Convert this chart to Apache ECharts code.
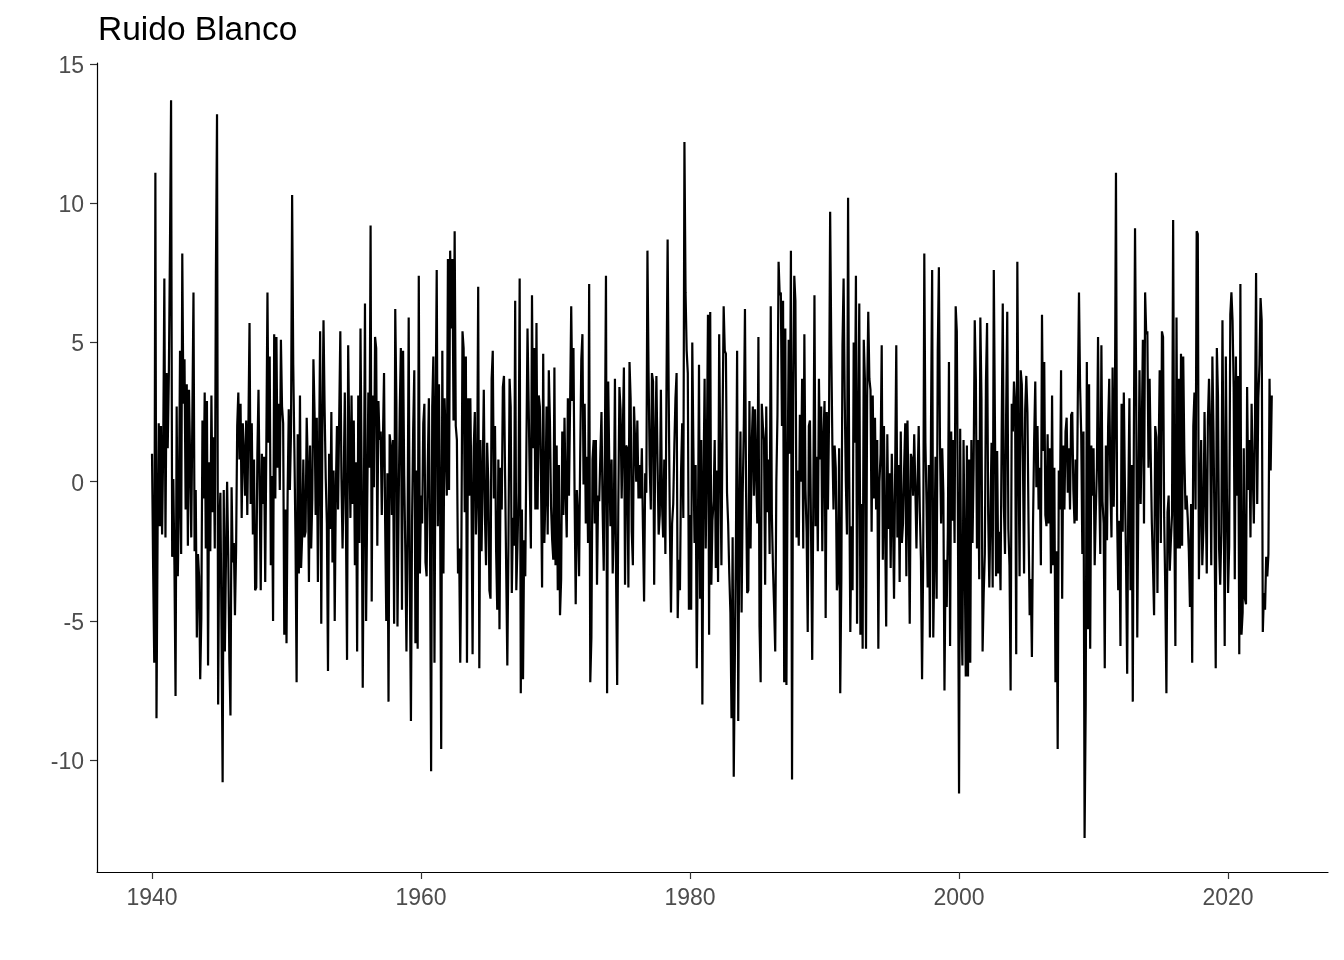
<!DOCTYPE html>
<html><head><meta charset="utf-8">
<script src="https://cdn.jsdelivr.net/npm/echarts@6/dist/echarts.min.js"></script>
<style>html,body{margin:0;padding:0;background:#fff}#c{width:1344px;height:960px}</style>
</head><body><div id="c"></div>
<script>
const chartTitle = 'Ruido Blanco';
const startYear = 1940;          // monthly series, January 1940 onwards
const xTicks = [1940, 1960, 1980, 2000, 2020];
const yTicks = [-10, -5, 0, 5, 10, 15];
const values = [
  1.0, -3.1, -6.5, 11.1, -8.5, -1.7, 2.1, -1.6, 2.0, -1.9, 1.3, 7.3,
  -2.0, 3.9, 1.2, 3.8, 8.3, 13.7, -2.7, 0.1, -3.0, -7.7, 2.7, -3.4,
  -0.9, 4.7, -2.6, 8.2, 2.8, 4.4, -1.0, 3.5, -2.3, 3.3, 0.8, -2.0,
  2.4, 6.8, -2.5, -0.3, -5.6, -2.6, -3.4, -7.1, -4.9, 2.2, -0.6, 3.2,
  -2.4, 2.9, -6.6, 0.7, -2.5, 3.1, -1.1, 1.6, -2.4, 7.5, 13.2, -8.0,
  -1.6, -0.4, -5.3, -10.8, -0.3, -6.1, -2.7, 0.0, -2.6, -6.4, -8.4, -0.2,
  -2.9, -2.2, -4.8, -2.5, 2.0, 3.2, 0.8, 2.8, -1.3, 2.1, 1.0, -0.5,
  2.2, -1.2, 2.0, 5.7, -0.8, 2.1, -1.9, 0.8, -3.9, -3.8, 1.0, 3.3,
  3.3, -3.9, 1.0, -0.8, 0.9, -3.6, 1.4, 6.8, 1.4, 4.5, -3.0, 0.2,
  -5.0, 5.3, -0.6, 5.2, 0.5, 2.8, -0.3, 5.1, 2.7, 2.1, -5.5, -1.0,
  -5.8, -0.4, 2.6, -0.3, 1.8, 10.3, 4.2, 1.2, -2.0, -7.2, 1.7, -3.3,
  3.1, -3.1, -1.9, 0.8, -2.0, -1.8, 2.3, 0.6, -3.6, 1.3, -2.4, -0.6,
  4.4, 2.5, -1.2, 2.3, -3.6, 0.9, 5.4, -5.1, 1.9, 5.8, 2.6, 0.1,
  -1.5, -6.8, 1.0, -1.7, 2.5, -2.9, 0.4, -5.0, -0.3, 2.0, -1.0, 2.3,
  5.4, 0.1, -2.4, 0.0, 3.2, -1.5, -6.4, 4.9, 1.5, -1.3, 3.1, -0.8,
  2.2, -3.0, 0.7, -6.1, 3.1, -2.2, 5.5, 0.4, -7.4, -0.9, 6.4, -5.0,
  -0.8, 3.2, 0.5, 9.2, -4.3, 3.1, -0.2, 5.2, 4.8, -2.3, 2.9, 1.5,
  1.8, -1.2, 1.5, 3.9, -1.5, -5.0, 0.3, -7.9, 1.7, 1.3, -1.2, 1.5,
  -5.1, 6.2, 2.9, -5.2, -1.0, 2.5, 4.8, -4.6, 4.7, 0.2, -2.5, -6.1,
  -1.8, 5.9, -3.6, -8.6, -1.4, 1.9, 4.0, -5.8, 0.4, -6.0, 7.4, -3.3,
  -0.5, -1.5, 2.1, 2.8, -2.9, -3.4, 0.5, 3.0, -2.0, -10.4, 2.7, 4.5,
  -6.5, 2.5, 7.6, -1.6, 3.5, -0.6, -9.6, 4.7, -3.3, 3.0, 1.5, -0.5,
  8.0, -0.3, 8.3, 5.5, 8.0, 2.2, 9.0, 2.0, 1.5, -3.3, -2.4, -6.5,
  -2.5, 5.4, 4.8, -1.1, 4.5, -6.5, 3.0, -0.5, 3.0, -0.5, -6.2, 1.2,
  2.5, -1.9, -0.3, 7.0, -6.7, 1.5, -2.5, 0.2, 3.3, -1.2, -3.0, 1.4,
  0.0, -3.9, -4.2, 3.7, 4.7, -0.6, 2.0, -2.5, -4.6, 0.8, -5.3, 0.5,
  -1.0, 3.4, 3.8, 0.2, -3.2, -6.6, -2.2, 3.7, 2.7, -4.0, -1.3, -2.3,
  6.5, -3.9, -2.4, -0.4, 7.3, -7.6, -1.0, -7.1, -2.1, -3.4, 1.2, 5.5,
  2.9, 0.0, -2.4, 6.7, 1.2, 4.8, -1.0, 5.7, -1.0, 3.1, 2.7, 0.2,
  -3.8, 4.6, -2.2, -0.5, 2.7, -1.9, 4.0, 2.2, -0.9, -2.1, -2.8, 4.1,
  -3.0, 1.3, -3.9, 0.6, -4.8, -3.5, 1.8, -1.2, 2.3, -0.4, -2.0, 3.0,
  -0.5, 2.8, 6.3, 2.9, 4.8, -0.5, -4.4, -0.3, -1.2, -3.4, 1.0, 4.4,
  5.3, -0.1, 2.8, -1.5, 0.9, -2.2, 7.1, -7.2, -5.6, 0.8, 1.5, -1.5,
  1.5, -3.7, -0.5, -0.7, 1.0, 2.5, -1.0, -3.2, 1.0, 7.4, -7.6, 3.6,
  0.5, -1.6, 0.8, -3.3, -1.5, 3.7, -3.4, -7.3, -0.9, 3.4, 2.6, -0.6,
  1.7, 4.1, -3.7, 1.3, 1.2, -3.8, 4.3, 3.0, -1.8, -3.0, 2.7, 1.5,
  0.0, 2.2, -0.6, 0.6, -0.6, 1.2, -1.7, -4.3, 0.3, -0.4, 8.3, 3.9,
  0.6, -1.0, 3.9, 3.6, -3.7, 1.5, 3.8, 0.7, -1.9, -1.2, 3.3, -0.8,
  -2.0, 0.8, -2.6, 3.5, 8.7, 3.0, -1.6, -4.7, -1.5, -0.8, 1.3, 3.0,
  3.9, -4.9, -2.8, -3.9, 0.4, 2.1, -1.3, 12.2, 6.8, 4.7, 3.9, -4.6,
  -1.2, -4.6, 5.0, 1.2, -2.2, 0.6, -6.7, -2.0, 4.2, -4.2, 1.5, -8.0,
  0.0, 3.7, -2.4, 1.0, 6.0, -5.5, 6.1, -3.7, -1.4, -0.7, 1.5, -3.1,
  0.4, -3.6, 5.3, 0.9, -3.0, 2.1, 6.3, 4.7, 4.6, -0.4, -1.5, -3.3,
  -4.7, -8.5, -2.0, -10.6, -6.3, -1.9, 4.7, -8.6, -1.3, 1.8, -4.7, -0.4,
  2.1, 6.2, -0.4, -4.0, -3.9, 2.9, -2.4, 1.3, 2.7, -0.5, 2.6, 0.3,
  -1.5, 5.2, -5.2, -7.2, 2.8, 2.0, 1.5, -3.7, 2.7, -1.1, 0.8, -2.6,
  6.3, -1.2, -3.1, -4.5, -6.1, 0.0, 2.4, 7.9, 6.7, 6.8, 2.0, 6.5,
  -7.2, 5.5, -7.3, -0.1, 5.1, 1.0, 8.3, -10.7, 3.0, 7.4, 6.5, -2.0,
  0.4, -2.3, 2.4, 0.0, 3.7, -2.4, 5.3, -0.3, -1.8, -5.4, 2.0, 2.2,
  -2.0, -6.4, -0.5, 6.7, -1.6, 0.9, -2.5, 3.7, 0.8, 2.7, -2.5, 1.6,
  2.9, -4.9, 2.5, -1.0, 2.2, 9.7, 4.9, 1.3, -1.0, 1.3, 0.5, -3.9,
  -3.5, 1.2, -7.6, -3.5, 4.9, 7.3, 3.0, 0.0, -1.9, 10.2, 0.4, -5.4,
  -1.6, -3.9, 5.0, 1.4, 7.4, -5.1, 1.8, 6.4, -5.5, -0.8, -6.0, 5.1,
  3.7, -6.0, 3.0, 6.1, 3.7, 3.3, -1.8, 3.1, -0.6, 2.3, -1.0, 1.5,
  -6.0, 0.0, 1.0, 4.9, -2.8, 2.0, -1.5, -5.2, 1.7, -1.7, 0.3, -3.1,
  1.0, -1.2, -4.2, 0.4, 4.9, -2.0, 0.6, -3.6, 1.8, -2.2, -1.5, 0.5,
  2.1, -3.4, 2.2, -0.9, -5.1, 1.0, 0.8, -0.5, 1.7, -0.2, -2.4, 0.0,
  2.0, -1.1, -2.8, -7.1, -2.8, 8.2, 1.4, -0.8, -3.8, 0.6, -5.6, 2.2,
  7.6, -5.6, -2.7, 0.9, -4.2, 4.7, 7.7, 1.3, -1.5, 1.2, -0.4, -7.5,
  -2.8, -4.5, -1.8, 4.3, -5.9, 1.8, -1.4, 1.5, -2.2, 6.3, 5.4, -1.4,
  -11.2, 1.9, -4.3, -6.6, 1.5, -2.5, -7.0, 1.3, -7.0, 0.8, -6.5, 1.5,
  -2.2, 0.5, 5.8, 3.7, -2.4, 1.5, -3.5, 5.9, 3.0, -6.1, -4.0, -2.6,
  3.6, 5.7, -1.2, -3.8, -1.1, 1.4, -3.8, 7.6, 2.2, -3.4, 1.1, -3.3,
  -1.8, -3.9, 1.7, 6.4, -0.9, -2.6, 2.4, 6.1, -1.7, -3.0, -7.5, 2.8,
  1.8, 3.6, 2.8, -6.2, 7.9, 1.3, -3.4, 4.0, 3.5, 0.7, -3.3, 2.6,
  3.8, 2.5, -1.5, -4.8, -3.5, -6.3, -1.5, 1.5, 3.6, -0.2, 2.0, -1.0,
  0.5, -3.0, 6.0, 1.1, 4.3, -1.2, -1.6, 1.7, -1.5, 1.2, -3.3, 3.1,
  -3.0, 0.5, -7.2, -2.5, -9.6, 0.4, -1.0, 4.0, -4.2, 1.3, -1.0, 1.8,
  2.3, -0.4, 1.2, -1.0, 2.4, 2.5, -0.3, -1.5, 0.8, -1.4, 3.2, 6.8,
  3.4, 1.7, -2.6, 1.8, -12.8, -8.0, 4.3, -5.3, 3.5, -6.0, 1.3, -0.5,
  1.2, -3.0, -1.1, 0.5, 5.2, 0.0, -2.6, 4.9, -0.7, -1.5, -6.7, 1.3,
  -2.1, 2.0, 3.7, 0.0, -2.0, 4.1, -0.9, 2.2, 11.1, -1.2, -3.9, -1.4,
  -5.9, 2.8, -1.8, 3.2, -0.2, -3.0, -6.9, -0.6, 3.0, -3.9, 0.6, -7.9,
  2.0, 9.1, 3.5, -5.6, -0.4, 4.0, -0.8, 1.8, 5.1, -1.5, 6.8, 5.3,
  5.4, 0.5, 3.7, 1.0, -1.5, -3.0, -4.8, 2.0, 1.6, -4.0, 0.8, 4.0,
  -2.2, 5.4, 5.2, -1.3, -3.9, -7.6, -1.1, -0.5, -3.2, -2.1, -1.2, 9.4,
  -1.1, -5.9, 5.9, -2.4, 3.7, -2.4, 4.6, -2.3, 4.5, 1.0, -1.0, -0.5,
  -1.3, -2.5, -4.5, -0.8, -6.5, 2.0, 3.2, -1.0, 9.0, 8.9, -3.5, -0.8,
  1.5, -3.0, -1.7, 2.5, 2.5, -3.3, 2.2, 3.7, 2.0, -3.0, 4.5, 1.8,
  -2.0, -6.7, 4.8, 3.1, -2.4, -3.7, -1.8, 5.8, 0.0, -5.9, 4.5, -0.5,
  -4.0, -2.3, 6.0, 6.8, 5.8, 3.4, -3.5, 4.5, -0.5, 3.8, -6.2, 7.1,
  -5.5, -4.7, 1.2, -4.2, -4.4, 3.4, -0.3, 1.5, -2.0, 2.8, 0.4, -1.5,
  2.0, 7.5, -0.8, 3.0, 4.2, 6.6, 5.8, -5.4, -4.0, -4.6, -2.7, -3.4,
  -2.6, 3.7, 0.4, 3.1
];

const seriesData = values.map((v, i) => [startYear + i / 12, v]);
const fontFam = '"Liberation Sans", Arial, sans-serif';

const chart = echarts.init(document.getElementById('c'), null, { renderer: 'canvas' });
chart.setOption({
  animation: false,
  backgroundColor: '#ffffff',
  title: {
    text: chartTitle, left: 93, top: 9,
    textStyle: { fontFamily: fontFam, fontSize: 33.5, fontWeight: 'normal', color: '#000000' }
  },
  grid: { left: 97, right: 16, top: 63, bottom: 88, containLabel: false },
  xAxis: {
    type: 'value', min: 1935.91, max: 2027.43,
    axisLine: { show: true, onZero: false, lineStyle: { color: '#000000', width: 1.2 } },
    axisTick: { show: true, length: 7, customValues: xTicks, lineStyle: { color: '#333333', width: 1.2 } },
    axisLabel: {
      customValues: xTicks, margin: 15, color: '#4D4D4D', fontSize: 23, fontFamily: fontFam,
      formatter: v => String(Math.round(v))
    },
    splitLine: { show: false }
  },
  yAxis: {
    type: 'value', min: -14.02, max: 15.04,
    axisLine: { show: true, onZero: false, lineStyle: { color: '#000000', width: 1.2 } },
    axisTick: { show: true, length: 7, customValues: yTicks, lineStyle: { color: '#333333', width: 1.2 } },
    axisLabel: {
      customValues: yTicks, margin: 13, color: '#4D4D4D', fontSize: 23, fontFamily: fontFam,
      formatter: v => '{t|' + Math.round(v) + '}',
      rich: { t: { fontSize: 23, fontFamily: fontFam, color: '#4D4D4D', padding: [5, 0, 0, 0] } }
    },
    splitLine: { show: false }
  },
  series: [{
    type: 'line', data: seriesData, symbol: 'none', showSymbol: false, silent: true,
    lineStyle: { color: '#000000', width: 2.2 }
  }]
});
</script>
</body></html>
